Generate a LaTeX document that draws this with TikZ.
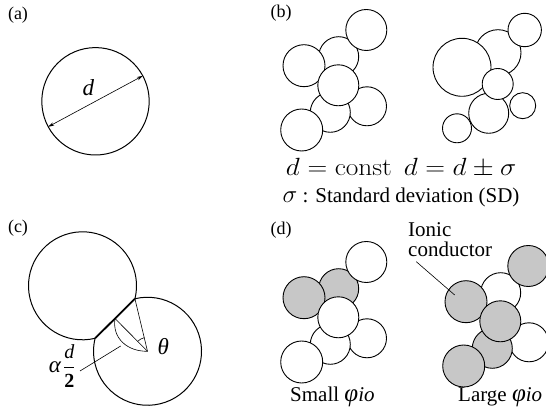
\documentclass[tikz,border=0pt]{standalone}
\usepackage{amsmath}
\usepackage{graphicx}
\usepackage[no-math]{fontspec}
\setmainfont{Liberation Serif}
\usetikzlibrary{arrows.meta,calc}
\begin{document}
\begin{tikzpicture}[x=1pt,y=-1pt,
  ball/.style={draw, line width=0.9pt, fill=white},
  gball/.style={draw, line width=0.9pt, fill=black!22},
  outl/.style={line width=1pt},
  thin/.style={line width=0.6pt},
  lbl/.style={font=\fontsize{18}{20}\selectfont, inner sep=0pt},
  txt/.style={font=\fontsize{21}{20}\selectfont, inner sep=0pt},
  mth/.style={font=\fontsize{24}{26}\selectfont, inner sep=0pt}]
\useasboundingbox (0,0) rectangle (546,411);
\clip (0,0) rectangle (546,411);

% ---------- (a)
\node[lbl] (la) at (18,15.5) {(a)};
\coordinate (ca) at (95.5,101.3);
\draw[outl] (ca) circle[radius=53.7];
\coordinate (a1) at ($(ca)+(151.7:53.7)$);
\coordinate (a2) at ($(ca)+(-28.3:53.7)$);
\draw[thin, {Stealth[length=6pt,width=3.5pt]}-{Stealth[length=6pt,width=3.5pt]}] (a1) -- (a2);
\node[mth, font=\fontsize{23}{24}\selectfont\itshape] (da) at (88.3,88) {d};

% ---------- (b)
\node[lbl] (lb) at (281,13) {(b)};
% left cluster
\path[ball] (338.7,56.7) circle[radius=20];
\path[ball] (367,106.3) circle[radius=19.5];
\path[ball] (330.3,112.3) circle[radius=20];
\path[ball] (366.3,30) circle[radius=20.5];
\path[ball] (304,65.7) circle[radius=21];
\path[ball] (301.7,130) circle[radius=21];
\path[ball] (338.3,85.3) circle[radius=20.5];
% right cluster
\path[ball] (498,52.7) circle[radius=23];
\path[ball] (488.7,113.3) circle[radius=20];
\path[ball] (524.7,30) circle[radius=16.7];
\path[ball] (462,67.3) circle[radius=29];
\path[ball] (497.7,84) circle[radius=15.5];
\path[ball] (522.7,105.7) circle[radius=13];
\path[ball] (457,128.3) circle[radius=14.5];
\node[mth, anchor=base] (eq1) at (339,175.5) {\scalebox{1.1}[1]{$d = \mathrm{const}$}};
\node[mth, anchor=base] (eq2) at (460,175.5) {\scalebox{1.1}[1]{$d = d \pm \sigma$}};
\node[txt, anchor=base, font=\fontsize{21}{20}\selectfont] (sd) at (401,203) {{\fontsize{25}{25}\selectfont$\sigma$} : Standard deviation (SD)};

% ---------- (c)
\node[lbl] (lc) at (18,228) {(c)};
\coordinate (c1) at (82.5,285.8);
\coordinate (c2) at (147.5,351.3);
\coordinate (P) at ($(c1)+(13.9:54)$);
\coordinate (Q) at ($(c1)+(76.5:54)$);
\coordinate (Mc) at ($(P)!0.5!(Q)$);
\draw[outl] (Q) arc[start angle=76.5, end angle=373.9, radius=54];
\draw[outl] (P) arc[start angle=256.5, end angle=553.9, radius=54];
\draw[line width=1.8pt] (P) -- (Q);
\draw[thin] (c2) -- (P);
\draw[thin] (c2) -- (Mc);
\draw[thin] ($(c2)+(256.5:14)$) arc[start angle=256.5, end angle=225.2, radius=14];
\draw[thin] (Mc) .. controls (112,338) and (127,351.5) .. (c2);
\node[mth, font=\fontsize{23}{24}\selectfont\itshape] (th) at (163.3,346.7) {θ};
\node[mth, font=\fontsize{23}{24}\selectfont\itshape] (al) at (55,367) {α};
\node[mth, font=\fontsize{20}{24}\selectfont, anchor=west] (fr) at (63,366) {$\genfrac{}{}{0.8pt}{0}{\textit{d}}{\textbf{2}}$};
\coordinate (ld1) at (80,371);
\coordinate (ld2) at (120.7,346);
\draw[thin] (ld1) -- (ld2);

% ---------- (d)
\node[lbl] (ld) at (281,230) {(d)};
\begin{scope}[yshift=-232pt]
\path[gball] (338.7,56.7) circle[radius=20];
\path[ball] (367,106.3) circle[radius=19.5];
\path[ball] (330.3,112.3) circle[radius=20];
\path[ball] (366.3,30) circle[radius=20.5];
\path[gball] (304,65.7) circle[radius=21];
\path[ball] (301.7,130) circle[radius=21];
\path[ball] (338.3,85.3) circle[radius=20.5];
\end{scope}
\begin{scope}[xshift=162pt, yshift=-236pt]
\path[ball] (338.7,56.7) circle[radius=20];
\path[ball] (367,106.3) circle[radius=19.5];
\path[gball] (330.3,112.3) circle[radius=20];
\path[gball] (366.3,30) circle[radius=20.5];
\path[gball] (304,65.7) circle[radius=21];
\path[gball] (301.7,130) circle[radius=21];
\path[gball] (338.3,85.3) circle[radius=20.5];
\end{scope}
\node[txt, align=left, anchor=north west, font=\fontsize{21}{20}\selectfont] (ion) at (408,222) {Ionic\\conductor};
\coordinate (io1) at (416.3,261.7);
\coordinate (io2) at (454.7,295);
\draw[thin] (io1) -- (io2);
\node[txt, anchor=base west] (sm) at (290,401) {Small {\fontsize{25}{25}\selectfont\itshape φ}{\itshape io}};
\node[txt, anchor=base west] (lg) at (458,401) {Large {\fontsize{25}{25}\selectfont\itshape φ}{\itshape io}};
\end{tikzpicture}
\end{document}
